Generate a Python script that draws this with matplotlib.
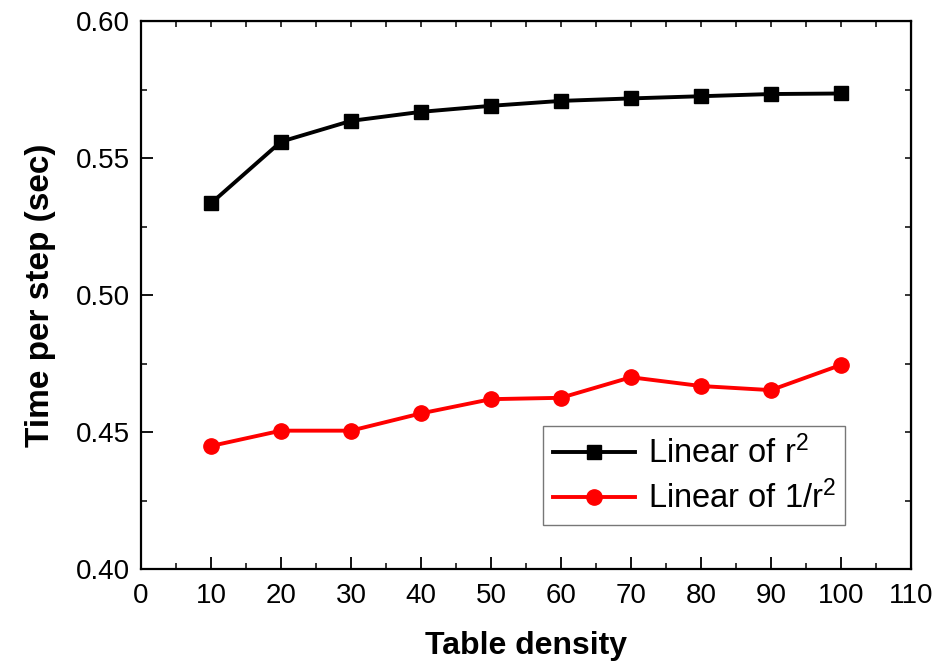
import numpy as np
import matplotlib
matplotlib.use("Agg")
import matplotlib.pyplot as plt
from matplotlib.ticker import MultipleLocator

plt.rcParams["font.family"] = ["Liberation Sans", "DejaVu Sans"]
plt.rcParams["mathtext.fontset"] = "custom"
plt.rcParams["mathtext.rm"] = "Liberation Sans"
plt.rcParams["mathtext.it"] = "Liberation Sans"

# ---------------------------
# Timing data
# ---------------------------
density = [10, 20, 30, 40, 50, 60, 70, 80, 90, 100]
t_r2 = [0.5335, 0.5560, 0.5636, 0.5669, 0.5691, 0.5709, 0.5718, 0.5726, 0.5734, 0.5736]
t_inv_r2 = [0.4449, 0.4505, 0.4505, 0.4568, 0.4620, 0.4625, 0.4700, 0.4668, 0.4653, 0.4745]

labels = ["Linear of r$^2$", "Linear of 1/r$^2$"]

fig = plt.figure(figsize=(9.4, 6.62), dpi=100)
ax = fig.add_axes([0.150, 0.1405, 0.819, 0.8275])

ax.plot(density, t_r2, color="black", lw=2.8, marker="s", ms=10, label=labels[0])
ax.plot(density, t_inv_r2, color="red", lw=2.8, marker="o", ms=11, label=labels[1])

ax.set_xlim(0, 110)
ax.set_ylim(0.40, 0.60)
ax.xaxis.set_major_locator(MultipleLocator(10))
ax.xaxis.set_minor_locator(MultipleLocator(5))
ax.yaxis.set_major_locator(MultipleLocator(0.05))
ax.yaxis.set_minor_locator(MultipleLocator(0.025))
ax.yaxis.set_major_formatter(plt.FormatStrFormatter("%.2f"))

ax.tick_params(which="major", direction="in", length=8.5, width=1.3, labelsize=20)
ax.tick_params(axis="x", which="major", pad=10)
ax.tick_params(axis="y", which="major", pad=8)
ax.tick_params(which="minor", direction="in", length=4, width=1.1)
for s in ax.spines.values():
    s.set_linewidth(1.6)

# small ticks along the top and right edges
top = ax.secondary_xaxis("top")
top.set_xticks(np.arange(0, 111, 5))
top.tick_params(direction="in", length=4, width=1.1, labeltop=False)
right = ax.secondary_yaxis("right")
right.set_yticks(np.arange(0.40, 0.601, 0.025))
right.tick_params(direction="in", length=4, width=1.1, labelright=False)

ax.set_xlabel("Table density", fontsize=23, fontweight="bold", labelpad=16)
ax.set_ylabel("Time per step (sec)", fontsize=24, fontweight="bold", labelpad=14)

leg = ax.legend(loc="lower right", bbox_to_anchor=(0.936, 0.05), fontsize=23.5,
                frameon=True, fancybox=False, edgecolor="#555555",
                handlelength=2.5, borderpad=0.3, labelspacing=0.33, handletextpad=0.4)
leg.get_frame().set_linewidth(1.0)

fig.savefig("out.png", dpi=100)
